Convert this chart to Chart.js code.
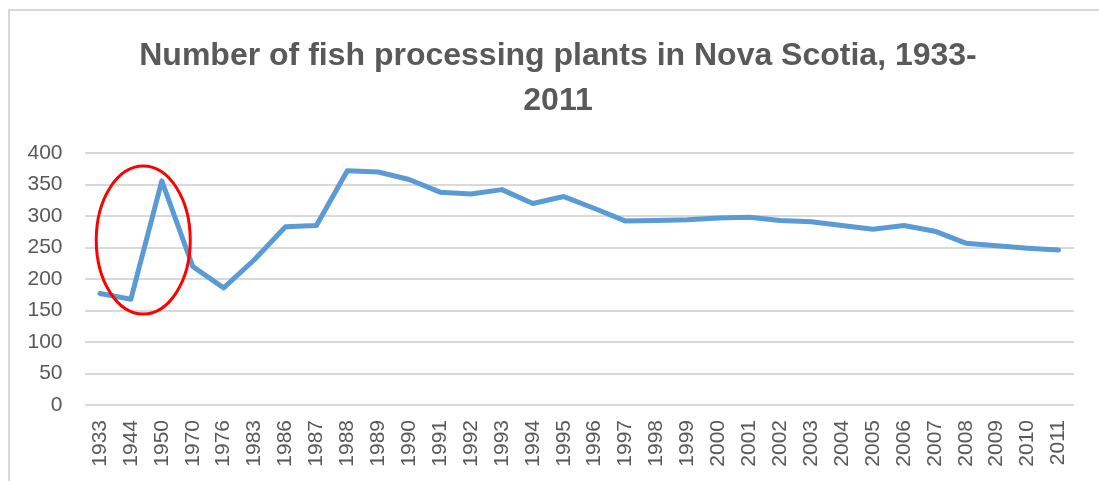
<!DOCTYPE html>
<html>
<head>
<meta charset="utf-8">
<script src="https://cdn.jsdelivr.net/npm/chart.js@4"></script>
<style>
  html, body { margin: 0; padding: 0; background: #fff; }
  #wrap { position: relative; width: 1099px; height: 481px; overflow: hidden; }
  #frame { position: absolute; left: 8px; top: 9px; width: 1200px; height: 600px;
           border-top: 2px solid #d9d9d9; border-left: 2px solid #d9d9d9; }
  canvas { position: absolute; left: 0; top: 0; }
</style>
</head>
<body>
<div id="wrap">
  <div id="frame"></div>
  <canvas id="fishChart" width="1099" height="481"></canvas>
</div>
<script>
// Fish processing plants in Nova Scotia
const years = ['1933', '1944', '1950', '1970', '1976', '1983', '1986', '1987', '1988', '1989',
  '1990', '1991', '1992', '1993', '1994', '1995', '1996', '1997', '1998', '1999', '2000',
  '2001', '2002', '2003', '2004', '2005', '2006', '2007', '2008', '2009', '2010', '2011'];
const plants = [177, 168, 356, 220, 186, 231, 283, 285, 372, 370,
  358, 338, 335, 342, 320, 331, 312, 292, 293, 294, 297,
  298, 293, 291, 285, 279, 285, 276, 257, 253, 249, 246];
const yTicks = [0, 50, 100, 150, 200, 250, 300, 350, 400];

// red circle around the 1950 spike (category index / value of its centre)
const circleAt = { index: 1.4, value: 262 };

const circlePlugin = {
  id: 'circle',
  afterLayout(chart) {
    // title sits a little right of the plot centre in the original
    chart.titleBlock.left += 7;
    chart.titleBlock.right += 7;
  },
  afterDatasetsDraw(chart) {
    const ctx = chart.ctx;
    const x = chart.scales.x.getPixelForValue(circleAt.index);
    const y = chart.scales.y.getPixelForValue(circleAt.value);
    ctx.save();
    ctx.beginPath();
    ctx.ellipse(x, y, 47, 74, 0, 0, Math.PI * 2);
    ctx.strokeStyle = '#ff0000';
    ctx.lineWidth = 3;
    ctx.stroke();
    ctx.restore();
  }
};

new Chart(document.getElementById('fishChart'), {
  type: 'line',
  data: {
    labels: years,
    datasets: [{
      data: plants,
      borderColor: '#5b9bd5',
      borderWidth: 5,
      pointRadius: 0,
      tension: 0,
      borderJoinStyle: 'round',
      borderCapStyle: 'round'
    }]
  },
  options: {
    responsive: false,
    animation: false,
    layout: { padding: { left: 24.5, right: 21.5, top: 34, bottom: 0 } },
    plugins: {
      legend: { display: false },
      tooltip: { enabled: false },
      title: {
        display: true,
        text: ['Number of fish processing plants in Nova Scotia, 1933-', '2011'],
        color: '#595959',
        font: { family: 'Liberation Sans', size: 32, weight: 'bold', lineHeight: 1.4 },
        padding: { top: 0, bottom: 29.5 }
      }
    },
    scales: {
      x: {
        offset: true,
        afterFit: axis => { axis.height = 76; },
        grid: { display: false, drawTicks: false },
        border: { display: false },
        ticks: {
          color: '#595959',
          font: { family: 'Liberation Sans', size: 21 },
          maxRotation: 90,
          minRotation: 90,
          autoSkip: false,
          padding: 15
        }
      },
      y: {
        min: 0,
        max: 400,
        afterBuildTicks: axis => { axis.ticks = yTicks.map(v => ({ value: v })); },
        afterFit: axis => { axis.width = 60; },
        grid: { color: '#d9d9d9', lineWidth: 2, drawTicks: false },
        border: { display: false },
        ticks: {
          color: '#595959',
          font: { family: 'Liberation Sans', size: 21 },
          padding: 22
        }
      }
    }
  },
  plugins: [circlePlugin]
});
</script>
</body>
</html>
